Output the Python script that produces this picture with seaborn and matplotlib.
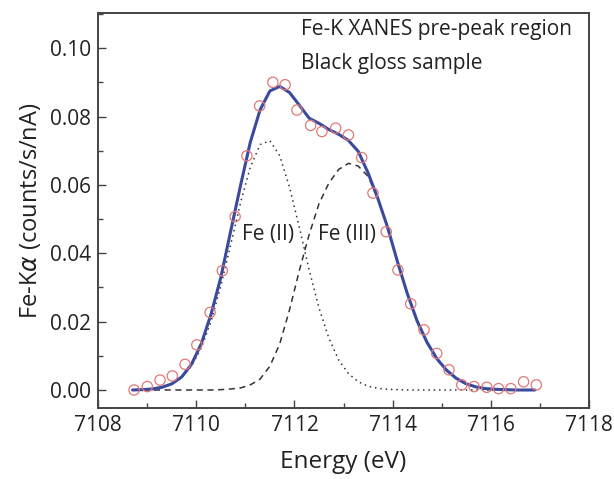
import numpy as np
import pandas as pd
import seaborn as sns
import matplotlib.pyplot as plt
from matplotlib.ticker import MultipleLocator, FormatStrFormatter

# measured points (open circles)
energy_pts = [7108.73, 7109.00, 7109.26, 7109.51, 7109.77, 7110.01, 7110.28, 7110.53,
              7110.79, 7111.03, 7111.29, 7111.56, 7111.81, 7112.05, 7112.33, 7112.56,
              7112.84, 7113.10, 7113.37, 7113.60, 7113.87, 7114.11, 7114.37, 7114.64,
              7114.90, 7115.15, 7115.41, 7115.66, 7115.92, 7116.16, 7116.41, 7116.67,
              7116.93]
counts_pts = [0.0000, 0.0010, 0.0029, 0.0041, 0.0075, 0.0132, 0.0227, 0.0349,
              0.0507, 0.0685, 0.0831, 0.0900, 0.0893, 0.0819, 0.0774, 0.0756,
              0.0766, 0.0746, 0.0680, 0.0576, 0.0463, 0.0351, 0.0252, 0.0176,
              0.0107, 0.0059, 0.0015, 0.0010, 0.0008, 0.0004, 0.0004, 0.0024,
              0.0015]

# fitted curves on a 0.2 eV grid
energy_fit = [7108.7, 7108.9, 7109.1, 7109.3, 7109.5, 7109.7, 7109.9, 7110.1, 7110.3,
              7110.5, 7110.7, 7110.9, 7111.1, 7111.3, 7111.5, 7111.7, 7111.9, 7112.1,
              7112.3, 7112.5, 7112.7, 7112.9, 7113.1, 7113.3, 7113.5, 7113.7, 7113.9,
              7114.1, 7114.3, 7114.5, 7114.7, 7114.9, 7115.1, 7115.3, 7115.5, 7115.7,
              7115.9, 7116.1, 7116.3, 7116.5, 7116.7, 7116.9]
total_fit = [0.0000, 0.0001, 0.0003, 0.0008, 0.0018, 0.0038, 0.0075, 0.0135, 0.0222,
             0.0330, 0.0465, 0.0598, 0.0725, 0.0820, 0.0875, 0.0888, 0.0870, 0.0833,
             0.0795, 0.0780, 0.0762, 0.0748, 0.0730, 0.0698, 0.0635, 0.0560, 0.0475,
             0.0375, 0.0282, 0.0202, 0.0140, 0.0092, 0.0058, 0.0034, 0.0018, 0.0009,
             0.0004, 0.0002, 0.0001, 0.0000, 0.0000, 0.0000]
fe2_fit = [0.0000, 0.0001, 0.0003, 0.0008, 0.0018, 0.0036, 0.0070, 0.0123, 0.0201,
           0.0305, 0.0425, 0.0548, 0.0652, 0.0718, 0.0729, 0.0685, 0.0593, 0.0475,
           0.0351, 0.0240, 0.0152, 0.0088, 0.0048, 0.0024, 0.0011, 0.0005, 0.0002,
           0.0001, 0.0000, 0.0000, 0.0000, 0.0000, 0.0000, 0.0000, 0.0000, 0.0000,
           0.0000, 0.0000, 0.0000, 0.0000, 0.0000, 0.0000]
fe3_fit = [0.0000, 0.0000, 0.0000, 0.0000, 0.0000, 0.0000, 0.0000, 0.0000, 0.0000,
           0.0001, 0.0003, 0.0006, 0.0015, 0.0032, 0.0070, 0.0135, 0.0235, 0.0350,
           0.0455, 0.0545, 0.0605, 0.0645, 0.0663, 0.0655, 0.0625, 0.0560, 0.0475,
           0.0375, 0.0280, 0.0200, 0.0138, 0.0090, 0.0056, 0.0032, 0.0017, 0.0008,
           0.0003, 0.0001, 0.0000, 0.0000, 0.0000, 0.0000]

pts = pd.DataFrame({"E": energy_pts, "I": counts_pts})
fit = pd.DataFrame({"E": energy_fit, "total": total_fit, "fe2": fe2_fit, "fe3": fe3_fit})

sns.set_style("ticks")
plt.rcParams["font.family"] = ["Open Sans", "DejaVu Sans"]
plt.rcParams["mathtext.fontset"] = "dejavusans"

fig = plt.figure(figsize=(6.14, 4.79), dpi=100)
ax = fig.add_axes([0.160, 0.148, 0.799, 0.825])

sns.lineplot(data=fit, x="E", y="fe2", ax=ax, color="#333333", lw=1.1,
             linestyle=(0, (1, 2.5)))
sns.lineplot(data=fit, x="E", y="fe3", ax=ax, color="#333333", lw=1.1,
             linestyle=(0, (4, 3)))
sns.lineplot(data=fit, x="E", y="total", ax=ax, color="#3a4a9f", lw=2.2)
sns.scatterplot(data=pts, x="E", y="I", ax=ax, marker="o", s=55,
                facecolors="none", edgecolor="#e07878", linewidth=0.9, zorder=5)

ax.set_xlim(7108, 7118)
ax.set_ylim(-0.0053, 0.1103)
ax.xaxis.set_major_locator(MultipleLocator(2))
ax.xaxis.set_minor_locator(MultipleLocator(1))
ax.yaxis.set_major_locator(MultipleLocator(0.02))
ax.yaxis.set_minor_locator(MultipleLocator(0.01))
ax.yaxis.set_major_formatter(FormatStrFormatter("%.2f"))
ax.tick_params(which="both", direction="in", top=False, right=False,
               color="#444444", width=1.0, labelsize=15, labelcolor="#222222")
ax.tick_params(which="major", length=6, pad=5)
ax.tick_params(which="minor", length=3.5)
for sp in ax.spines.values():
    sp.set_color("#444444")
    sp.set_linewidth(1.4)

ax.set_xlabel("Energy (eV)", fontsize=17.5, color="#222222", labelpad=10)
ax.set_ylabel(r"Fe-K$\alpha$ (counts/s/nA)", fontsize=17, color="#222222", labelpad=5)

ax.text(0.413, 0.957, "Fe-K XANES pre-peak region", transform=ax.transAxes,
        fontsize=15, va="center", ha="left", color="#222222")
ax.text(0.413, 0.873, "Black gloss sample", transform=ax.transAxes,
        fontsize=15, va="center", ha="left", color="#222222")
ax.text(7111.47, 0.0454, "Fe (II)", fontsize=15, ha="center", va="center", color="#222222")
ax.text(7113.08, 0.0454, "Fe (III)", fontsize=15, ha="center", va="center", color="#222222")

fig.savefig("out.png", dpi=100)
